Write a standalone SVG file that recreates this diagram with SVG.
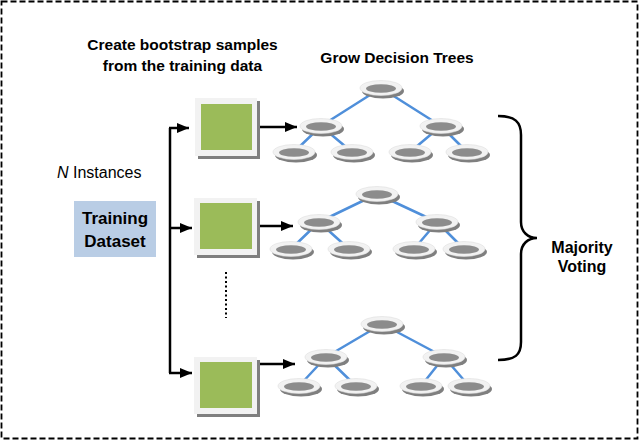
<svg xmlns="http://www.w3.org/2000/svg" xmlns:xlink="http://www.w3.org/1999/xlink" width="639" height="441" viewBox="0 0 639 441">
<style>
.t{font-family:"Liberation Sans",Arial,sans-serif;fill:#000}
.b{font-weight:bold}
.edge{stroke:#4F8FDA;stroke-width:2.5;fill:none}
.conn{stroke:#000;stroke-width:2.5;fill:none}
.shadow{fill:#7F7F7F}
.frame{fill:#F2F2F2}
.green{fill:#9BBB59}
</style>
<defs>
<marker id="ah" markerUnits="userSpaceOnUse" markerWidth="12" markerHeight="10" refX="12" refY="5" orient="auto">
<path d="M0,0 L12,5 L0,10 z" fill="#000"/>
</marker>
<g id="nd">
<ellipse cx="2" cy="3" rx="21" ry="7.5" fill="#7F7F7F"/>
<ellipse cx="0" cy="0" rx="21" ry="7.5" fill="#F2F2F2" stroke="#DDDDDD" stroke-width="0.6"/>
<ellipse cx="0" cy="0.5" rx="15" ry="4.3" fill="#8C8C8C"/>
</g>
</defs>
<rect x="1.5" y="1.5" width="636" height="437" fill="#fff" stroke="#000" stroke-width="1.8" stroke-dasharray="6,3"/>

<g id="labels">
<text class="t b" x="182.5" y="50" font-size="15.5" text-anchor="middle">Create bootstrap samples</text>
<text class="t b" x="182.5" y="71" font-size="15.5" text-anchor="middle">from the training data</text>
<text class="t b" x="397" y="63" font-size="15.5" text-anchor="middle">Grow Decision Trees</text>
<text class="t" x="57" y="178" font-size="16"><tspan font-style="italic">N</tspan> Instances</text>
</g>

<g id="training-dataset">
<rect x="74" y="201" width="82" height="56" fill="#B9CDE5"/>
<text class="t b" x="115" y="224" font-size="17" text-anchor="middle">Training</text>
<text class="t b" x="115" y="247" font-size="17" text-anchor="middle">Dataset</text>
</g>

<g id="connectors">
<path class="conn" d="M170,128 V373"/>
<path class="conn" d="M169,128 H189" marker-end="url(#ah)"/>
<path class="conn" d="M169,228 H192" marker-end="url(#ah)"/>
<path class="conn" d="M169,373 H192" marker-end="url(#ah)"/>
<path class="conn" d="M258,127 H297" marker-end="url(#ah)"/>
<path class="conn" d="M259,226 H293" marker-end="url(#ah)"/>
<path class="conn" d="M258,364 H295" marker-end="url(#ah)"/>
<path class="conn" d="M498,116 C515,116 521,122 521,135 V222 C521,232 528,238 537,238 C528,238 521,244 521,254 V342 C521,355 515,360 498,360"/>
<line x1="226" y1="272" x2="226" y2="318" stroke="#000" stroke-width="2" stroke-dasharray="2,2.5"/>
</g>

<g id="sample-1">
<rect class="shadow" x="198" y="101" width="62" height="58"/>
<rect class="frame" x="195" y="98" width="62" height="58"/>
<rect class="green" x="201" y="104" width="51" height="46"/>
</g>
<g id="sample-2">
<rect class="shadow" x="197" y="201" width="63" height="57"/>
<rect class="frame" x="194" y="198" width="63" height="57"/>
<rect class="green" x="200" y="203" width="52" height="46"/>
</g>
<g id="sample-3">
<rect class="shadow" x="197" y="360" width="63" height="57"/>
<rect class="frame" x="194" y="357" width="63" height="57"/>
<rect class="green" x="200" y="362" width="52" height="46"/>
</g>

<g id="tree-1">
<path class="edge" d="M381,88 L321,126 M381,88 L441,126 M321,126 L294,152 M321,126 L352,152 M441,126 L410,152 M441,126 L467,152"/>
<use xlink:href="#nd" x="381" y="88"/>
<use xlink:href="#nd" x="321" y="126"/>
<use xlink:href="#nd" x="441" y="126"/>
<use xlink:href="#nd" x="294" y="152"/>
<use xlink:href="#nd" x="352" y="152"/>
<use xlink:href="#nd" x="410" y="152"/>
<use xlink:href="#nd" x="467" y="152"/>
</g>
<g id="tree-2">
<path class="edge" d="M377,194 L319,222 M377,194 L437,222 M319,222 L291,249 M319,222 L349,249 M437,222 L414,249 M437,222 L464,249"/>
<use xlink:href="#nd" x="377" y="194"/>
<use xlink:href="#nd" x="319" y="222"/>
<use xlink:href="#nd" x="437" y="222"/>
<use xlink:href="#nd" x="291" y="249"/>
<use xlink:href="#nd" x="349" y="249"/>
<use xlink:href="#nd" x="414" y="249"/>
<use xlink:href="#nd" x="464" y="249"/>
</g>
<g id="tree-3">
<path class="edge" d="M382,324 L326,357 M382,324 L444,357 M326,357 L299,386 M326,357 L356,386 M444,357 L421,386 M444,357 L469,386"/>
<use xlink:href="#nd" x="382" y="324"/>
<use xlink:href="#nd" x="326" y="357"/>
<use xlink:href="#nd" x="444" y="357"/>
<use xlink:href="#nd" x="299" y="386"/>
<use xlink:href="#nd" x="356" y="386"/>
<use xlink:href="#nd" x="421" y="386"/>
<use xlink:href="#nd" x="469" y="386"/>
</g>

<g id="majority-voting">
<text class="t b" x="582" y="253" font-size="16" text-anchor="middle">Majority</text>
<text class="t b" x="582" y="272" font-size="16" text-anchor="middle">Voting</text>
</g>
</svg>
